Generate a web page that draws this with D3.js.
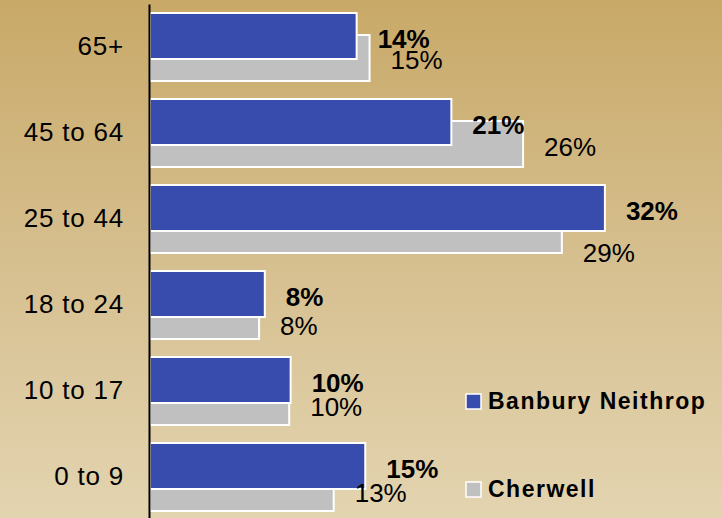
<!DOCTYPE html>
<html>
<head>
<meta charset="utf-8">
<script src="https://cdn.jsdelivr.net/npm/d3@7"></script>
<style>
  html, body { margin: 0; padding: 0; }
  body { width: 722px; height: 518px; overflow: hidden; }
  text { font-family: "Liberation Sans", Arial, sans-serif; fill: #000; }
</style>
</head>
<body>
<div id="chart"></div>
<script>
// age groups, top to bottom
var categories = ["65+", "45 to 64", "25 to 44", "18 to 24", "10 to 17", "0 to 9"];
var seriesNames = ["Banbury Neithrop", "Cherwell"];
// percent of population
var banbury  = [14.4, 21.0, 31.7, 8.0, 9.8, 15.0];
var cherwell = [15.3, 26.0, 28.7, 7.6, 9.7, 12.8];

var width = 722, height = 518;
var colors = { blue: "#384cad", grey: "#c0c0c0" };

// hand-placed grey labels in the original, nudge from the bar centre
var greyLabelDy = { "65+": 2, "45 to 64": 3, "25 to 44": 23, "18 to 24": 10, "10 to 17": 5, "0 to 9": 5 };

var svg = d3.select("#chart").append("svg")
    .attr("width", width)
    .attr("height", height);

// background gradient
var grad = svg.append("defs").append("linearGradient")
    .attr("id", "bg")
    .attr("x1", 0).attr("y1", 0).attr("x2", 0).attr("y2", 1);
grad.append("stop").attr("offset", "0%").attr("stop-color", "#c8a968");
grad.append("stop").attr("offset", "50%").attr("stop-color", "#d6bf8f");
grad.append("stop").attr("offset", "100%").attr("stop-color", "#e3d4b0");

svg.append("rect")
    .attr("width", width)
    .attr("height", height)
    .attr("fill", "url(#bg)");

var x = d3.scaleLinear()
    .domain([0, 35])
    .range([150, 150 + 35 * 14.35]);

var y = d3.scaleBand()
    .domain(categories)
    .range([4, 520])
    .paddingInner(18 / 86)
    .paddingOuter(9 / 86);

var bw = y.bandwidth();
var barH = bw * 46 / 68;
var offset = bw - barH;

var rows = categories.map(function(c, i) {
  return { cat: c, b: banbury[i], c: cherwell[i] };
});

var fmt = d3.format(".0f");

// grey (Cherwell) bars go behind
svg.append("g").selectAll("rect")
  .data(rows)
  .enter()
  .append("rect")
    .attr("x", x(0))
    .attr("y", function(d) { return y(d.cat) + offset; })
    .attr("width", function(d) { return x(d.c) - x(0); })
    .attr("height", barH)
    .attr("fill", colors.grey)
    .attr("stroke", "#fff")
    .attr("stroke-width", 2);

svg.append("g").selectAll("rect")
  .data(rows)
  .enter()
  .append("rect")
    .attr("x", x(0))
    .attr("y", function(d) { return y(d.cat); })
    .attr("width", function(d) { return x(d.b) - x(0); })
    .attr("height", barH)
    .attr("fill", colors.blue)
    .attr("stroke", "#fff")
    .attr("stroke-width", 2);

// data labels
svg.append("g").selectAll("text")
  .data(rows)
  .enter()
  .append("text")
    .attr("x", function(d) { return x(d.b) + 21; })
    .attr("y", function(d) { return y(d.cat) + barH / 2 + 3; })
    .attr("dominant-baseline", "central")
    .style("font-size", "26px")
    .style("font-weight", "bold")
    .text(function(d) { return fmt(d.b) + "%"; });

svg.append("g").selectAll("text")
  .data(rows)
  .enter()
  .append("text")
    .attr("x", function(d) { return x(d.c) + 21; })
    .attr("y", function(d) { return y(d.cat) + offset + barH / 2 + greyLabelDy[d.cat]; })
    .attr("dominant-baseline", "central")
    .style("font-size", "26px")
    .text(function(d) { return fmt(d.c) + "%"; });

// category axis
var axis = svg.append("g")
    .attr("transform", "translate(149,0)")
    .call(d3.axisLeft(y).tickSize(0).tickPadding(25));

axis.select(".domain")
    .attr("stroke", "#000")
    .attr("stroke-width", 2);

axis.selectAll("text")
    .style("font-family", "\"Liberation Sans\", Arial, sans-serif")
    .style("font-size", "26px")
    .style("letter-spacing", "0.8px")
    .attr("fill", "#000");

// legend
var legend = svg.append("g")
    .attr("transform", "translate(466,394)");

var items = legend.selectAll("g")
  .data(seriesNames)
  .enter()
  .append("g")
    .attr("transform", function(d, i) { return "translate(0," + (i * 88) + ")"; });

items.append("rect")
    .attr("width", 15)
    .attr("height", 15)
    .attr("fill", function(d, i) { return i === 0 ? colors.blue : colors.grey; })
    .attr("stroke", "#fff")
    .attr("stroke-width", 1.5);

items.append("text")
    .attr("x", 22)
    .attr("y", 15)
    .style("font-size", "23px")
    .style("font-weight", "bold")
    .style("letter-spacing", "1.5px")
    .text(function(d) { return d; });
</script>
</body>
</html>
